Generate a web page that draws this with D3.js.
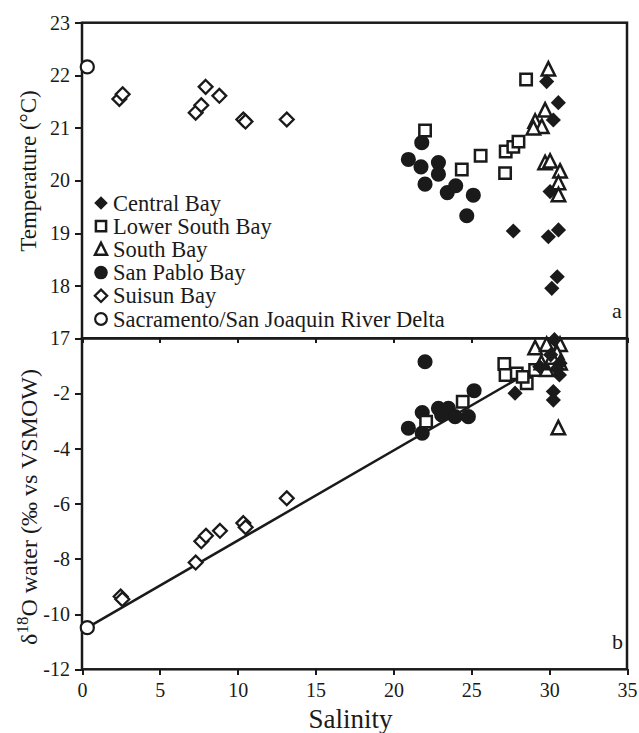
<html>
<head>
<meta charset="utf-8">
<script src="https://d3js.org/d3.v7.min.js"></script>
<style>
body { margin: 0; background: #fff; }
.axis path, .axis line { fill: none; stroke: #1a1a1a; stroke-width: 2; shape-rendering: crispEdges; }
.frame { fill: none; stroke: #1a1a1a; stroke-width: 2.5; }
</style>
</head>
<body>
<svg id="chart" width="639" height="733"></svg>
<script>

// salinity vs temperature (panel a) and salinity vs d18O (panel b)
var centralTemp   = [[29.84,21.88],[30.59,21.48],[30.27,21.15],[30.06,19.79],[27.7,19.04],[29.95,18.93],[30.6,19.06],[30.52,18.17],[30.17,17.95]];
var centralO18    = [[30.34,-0.05],[30.66,-1.33],[30.27,-1.93],[30.27,-2.24],[27.81,-1.99],[30.7,-0.9],[29.4,-1.03],[30.1,-0.6],[30.5,-1.1]];
var lowerTemp     = [[22.03,20.95],[24.39,20.21],[25.6,20.47],[27.17,20.14],[27.21,20.55],[27.7,20.64],[28.03,20.74],[28.52,21.92]];
var lowerO18      = [[22.1,-3.02],[24.45,-2.30],[27.12,-0.93],[27.2,-1.33],[27.92,-1.27],[28.56,-1.63],[29.1,-1.15],[28.3,-1.4]];
var southTemp     = [[29.95,22.11],[29.74,21.33],[29.1,21.12],[29.53,21.02],[28.99,20.99],[29.74,20.33],[30.06,20.36],[30.7,20.17],[30.6,19.95],[30.6,19.72]];
var southO18      = [[29.1,-0.36],[29.84,-0.24],[30.7,-0.24],[30.5,-0.54],[30.7,-0.91],[29.84,-1.15],[30.59,-3.26],[29.5,-0.9],[30.2,-0.7]];
var sanPabloTemp  = [[21.82,20.72],[20.96,20.40],[21.77,20.26],[22.89,20.34],[22.89,20.12],[22.03,19.93],[24.0,19.90],[23.46,19.77],[25.13,19.72],[24.71,19.33]];
var sanPabloO18   = [[22.03,-0.85],[25.18,-1.90],[21.85,-2.69],[22.89,-2.54],[23.53,-2.54],[23.96,-2.84],[24.81,-2.84],[20.96,-3.26],[21.85,-3.44],[23.1,-2.78]];
var suisunTemp    = [[2.40,21.55],[2.61,21.64],[7.30,21.29],[7.66,21.43],[7.94,21.78],[8.82,21.61],[10.36,21.16],[10.5,21.12],[13.15,21.16]];
var suisunO18     = [[2.48,-9.36],[2.59,-9.46],[7.30,-8.13],[7.66,-7.36],[7.96,-7.16],[8.86,-6.98],[10.36,-6.70],[10.51,-6.85],[13.15,-5.80]];
var deltaTemp     = [[0.34,22.16]];
var deltaO18      = [[0.34,-10.49]];
var fitLine       = [[0.34,-10.49],[29.4,-1.0]];

var regionNames = ["Central Bay","Lower South Bay","South Bay","San Pablo Bay","Suisun Bay","Sacramento/San Joaquin River Delta"];
var xTicks    = [0,5,10,15,20,25,30,35];
var tempTicks = [17,18,19,20,21,22,23];
var o18Ticks  = [-12,-10,-8,-6,-4,-2];

var serif = "'Liberation Serif', 'Times New Roman', serif";
var ink = "#1a1a1a";

var svg = d3.select("#chart");

var left = 82, right = 627;
var topA = 22.7, midY = 338.3, botB = 669.3;

var x  = d3.scaleLinear().domain([0,35]).range([left, right]);
var yA = d3.scaleLinear().domain([17,23]).range([midY, topA]);
var yB = d3.scaleLinear().domain([-12,0]).range([botB, midY]);

// marker shapes
var diamond = { draw: function(c, size) {
    var r = Math.sqrt(size/2);
    c.moveTo(0,-r); c.lineTo(r,0); c.lineTo(0,r); c.lineTo(-r,0); c.closePath();
}};
var triangle = { draw: function(c, size) {
    var s = Math.sqrt(size), w = s*0.5, h = s;
    c.moveTo(0,-h*0.55); c.lineTo(w,h*0.45); c.lineTo(-w,h*0.45); c.closePath();
}};

var styles = [
  {type: diamond,          size: 115, fill: ink,    stroke: "none", sw: 0},
  {type: d3.symbolSquare,  size: 130, fill: "#fff", stroke: ink,    sw: 2.5},
  {type: triangle,         size: 180, fill: "#fff", stroke: ink,    sw: 2.5},
  {type: d3.symbolCircle,  size: 180, fill: ink,    stroke: "none", sw: 0},
  {type: diamond,          size: 95,  fill: "#fff", stroke: ink,    sw: 2.3},
  {type: d3.symbolCircle,  size: 135, fill: "#fff", stroke: ink,    sw: 2.2}
];

// frames
svg.append("rect").attr("class","frame")
  .attr("x", left).attr("y", topA).attr("width", right-left).attr("height", midY-topA);
svg.append("rect").attr("class","frame")
  .attr("x", left).attr("y", midY).attr("width", right-left).attr("height", botB-midY);

var fmt = function(d){ return String(d); };

// axes
svg.append("g").attr("class","axis")
  .attr("transform","translate(" + left + ",0)")
  .call(d3.axisLeft(yA).tickValues(tempTicks).tickFormat(fmt).tickSize(7).tickPadding(5).tickSizeOuter(0));
svg.append("g").attr("class","axis")
  .attr("transform","translate(" + left + ",0)")
  .call(d3.axisLeft(yB).tickValues(o18Ticks).tickFormat(fmt).tickSize(7).tickPadding(5).tickSizeOuter(0));
svg.append("g").attr("class","axis")
  .attr("transform","translate(0," + midY + ")")
  .call(d3.axisBottom(x).tickValues(xTicks).tickSize(5).tickFormat("").tickSizeOuter(0));
var axX = svg.append("g").attr("class","axis")
  .attr("transform","translate(0," + botB + ")")
  .call(d3.axisBottom(x).tickValues(xTicks).tickFormat(fmt).tickSize(6).tickSizeOuter(0));
axX.selectAll("text").attr("y", 28).attr("dy", 0);
svg.selectAll(".axis .domain").remove();
svg.selectAll(".axis text")
  .style("font-family", serif).style("font-size", "20px").attr("fill", ink);

// regression line
svg.append("path")
  .datum(fitLine)
  .attr("d", d3.line().x(function(d){return x(d[0])}).y(function(d){return yB(d[1])}))
  .attr("fill","none").attr("stroke",ink).attr("stroke-width",2.5);

var tempSets = [centralTemp, lowerTemp, southTemp, sanPabloTemp, suisunTemp, deltaTemp];
var o18Sets  = [centralO18, lowerO18, southO18, sanPabloO18, suisunO18, deltaO18];
var drawOrder = [5,4,3,1,2,0];

function plot(sets, y) {
  drawOrder.forEach(function(i) {
    var st = styles[i];
    svg.append("g").selectAll("path")
      .data(sets[i]).enter().append("path")
      .attr("transform", function(d){ return "translate(" + x(d[0]) + "," + y(d[1]) + ")"; })
      .attr("d", d3.symbol().type(st.type).size(st.size))
      .attr("fill", st.fill).attr("stroke", st.stroke).attr("stroke-width", st.sw);
  });
}
plot(tempSets, yA);
plot(o18Sets, yB);

// legend
var leg = svg.append("g").attr("transform","translate(101,203)");
regionNames.forEach(function(name, i) {
  var st = styles[i];
  leg.append("path")
    .attr("transform","translate(0," + (i*23.2) + ")")
    .attr("d", d3.symbol().type(st.type).size(st.size*0.8))
    .attr("fill", st.fill).attr("stroke", st.stroke).attr("stroke-width", st.sw);
  leg.append("text")
    .attr("x", 12).attr("y", i*23.2 + 7.5)
    .style("font-family", serif).style("font-size","22.5px").attr("fill", ink)
    .text(name);
});

// panel letters
svg.append("text").attr("x", 612).attr("y", 318)
  .style("font-family", serif).style("font-size","22px").attr("fill", ink).text("a");
svg.append("text").attr("x", 612).attr("y", 649)
  .style("font-family", serif).style("font-size","22px").attr("fill", ink).text("b");

// axis titles
svg.append("text")
  .attr("transform","translate(36,171) rotate(-90)")
  .attr("text-anchor","middle")
  .style("font-family", serif).style("font-size","23px").attr("fill", ink)
  .text("Temperature (°C)");

var t2 = svg.append("text")
  .attr("transform","translate(37,507) rotate(-90)")
  .attr("text-anchor","middle")
  .style("font-family", serif).style("font-size","24px").attr("fill", ink);
t2.append("tspan").text("δ");
t2.append("tspan").attr("dy",-9).style("font-size","17px").text("18");
t2.append("tspan").attr("dy",9).text("O water (‰ vs VSMOW)");

svg.append("text")
  .attr("x", (left+right)/2 - 4).attr("y", 728)
  .attr("text-anchor","middle")
  .style("font-family", serif).style("font-size","27px").attr("fill", ink)
  .text("Salinity");

</script>
</body>
</html>
